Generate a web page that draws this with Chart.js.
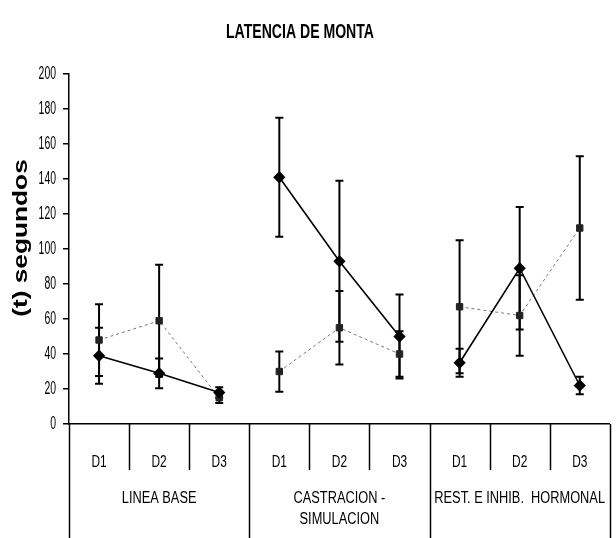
<!DOCTYPE html>
<html><head><meta charset="utf-8">
<script src="https://cdn.jsdelivr.net/npm/chart.js@4/dist/chart.umd.min.js"></script>
<style>html,body{margin:0;padding:0;background:#fff;overflow:hidden}</style>
</head><body>
<canvas id="c" width="619" height="538"></canvas>
<script>
const dayLabels = ['D1','D2','D3','D1','D2','D3','D1','D2','D3'];
const groupLabels = [['LINEA BASE'], ['CASTRACION -','SIMULACION'], ['REST. E INHIB.  HORMONAL']];
const solidMeans = [39, 29, 18, 141, 93, 50, 35, 89, 22];
const solidErr   = [16, 8.5, 3, 34, 46, 24, 8, 35, 5];
const dashedMeans = [48, 59, 15, 30, 55, 40, 67, 62, 112];
const dashedErr   = [20.5, 32, 3, 11.5, 21, 13, 38, 23, 41];
const yMin = 0, yMax = 200, yStep = 20;
const chartTitle = 'LATENCIA DE MONTA';
const yTitle = '(t) segundos';

const BASE = "'Liberation Sans', Arial, sans-serif";
const errSets = [solidErr, dashedErr];

const canvas = document.getElementById('c');
const c2d = canvas.getContext('2d');
const origFill = c2d.fillText.bind(c2d);
// condensed rendering of text whose font names a 'SXnn' family (nn = horizontal scale %)
c2d.fillText = function (text, x, y, maxWidth) {
  const m = /SX(\d+)/.exec(this.font);
  if (!m) return maxWidth === undefined ? origFill(text, x, y) : origFill(text, x, y, maxWidth);
  this.save();
  this.translate(x, y);
  this.scale(+m[1] / 100, 1);
  origFill(text, 0, 0);
  this.restore();
};

const errorBars = {
  id: 'errorBars',
  beforeDatasetsDraw(chart) {
    const ctx = chart.ctx, y = chart.scales.y;
    ctx.save();
    ctx.strokeStyle = '#000';
    ctx.lineWidth = 2;
    chart.data.datasets.forEach((ds, di) => {
      const meta = chart.getDatasetMeta(di);
      meta.data.forEach((pt, i) => {
        const v = ds.data[i], e = errSets[di][i];
        const x = pt.x, yt = y.getPixelForValue(v + e), yb = y.getPixelForValue(v - e);
        ctx.beginPath();
        ctx.moveTo(x, yt); ctx.lineTo(x, yb);
        ctx.moveTo(x - 4, yt); ctx.lineTo(x + 4, yt);
        ctx.moveTo(x - 4, yb); ctx.lineTo(x + 4, yb);
        ctx.stroke();
      });
    });
    ctx.restore();
  }
};

const decorations = {
  id: 'decorations',
  afterDraw(chart) {
    const ctx = chart.ctx, xs = chart.scales.x, area = chart.chartArea;
    const n = dayLabels.length, w = (xs.right - xs.left) / n;
    ctx.save();
    ctx.strokeStyle = '#000';
    ctx.lineWidth = 1.5;
    for (let k = 0; k <= n; k++) {
      const x = Math.round(xs.left + k * w) + 0.5;
      ctx.beginPath();
      ctx.moveTo(x, area.bottom);
      ctx.lineTo(x, k % 3 === 0 ? chart.height : area.bottom + 46);
      ctx.stroke();
    }
    ctx.fillStyle = '#000';
    ctx.textAlign = 'center';
    ctx.textBaseline = 'middle';
    ctx.font = "16px 'SX80', " + BASE;
    groupLabels.forEach((lines, g) => {
      const cx = xs.left + (g * 3 + 1.5) * w;
      lines.forEach((t, li) => ctx.fillText(t, cx, 499 + li * 21));
    });
    // chart title
    ctx.font = "bold 21px 'SX67', " + BASE;
    ctx.fillText(chartTitle, 300, 32);
    // y-axis title
    ctx.save();
    ctx.translate(21, 238);
    ctx.rotate(-Math.PI / 2);
    ctx.font = "bold 21px 'SX125', " + BASE;
    ctx.fillText(yTitle, 0, 0);
    ctx.restore();
    ctx.restore();
  }
};

new Chart(canvas, {
  type: 'line',
  data: {
    labels: dayLabels,
    datasets: [
      {
        data: solidMeans,
        borderColor: '#000', borderWidth: 1.6,
        pointStyle: 'rectRot', pointRadius: 5,
        pointBackgroundColor: '#000', pointBorderColor: '#000',
        segment: { borderColor: c => c.p0DataIndex % 3 === 2 ? 'rgba(0,0,0,0)' : undefined }
      },
      {
        data: dashedMeans,
        borderColor: '#777', borderWidth: 1, borderDash: [3, 3],
        pointStyle: 'rect', pointRadius: 4.5,
        pointBackgroundColor: '#222', pointBorderColor: '#222',
        segment: { borderColor: c => c.p0DataIndex % 3 === 2 ? 'rgba(0,0,0,0)' : undefined }
      }
    ]
  },
  options: {
    responsive: false,
    animation: false,
    layout: { padding: { left: 0, right: 0, top: 74, bottom: 0 } },
    plugins: {
      legend: { display: false },
      tooltip: { enabled: false },
      title: { display: false }
    },
    scales: {
      x: {
        offset: true,
        grid: { display: false, drawTicks: false },
        border: { display: true, color: '#000', width: 1.5 },
        ticks: { color: '#000', padding: 28, font: { family: "'SX70', " + BASE, size: 17 }, maxRotation: 0, autoSkip: false },
        afterFit: s => { s.height = 114; }
      },
      y: {
        min: yMin, max: yMax,
        ticks: { stepSize: yStep, color: '#000', padding: 7, font: { family: "'SX58', " + BASE, size: 18 } },
        grid: { drawOnChartArea: false, drawTicks: true, tickLength: 6, color: '#000', lineWidth: 1.5 },
        border: { display: true, color: '#000', width: 1.5 },
        afterFit: s => { s.width = 69; }
      }
    }
  },
  plugins: [errorBars, decorations]
});
</script>
</body></html>
